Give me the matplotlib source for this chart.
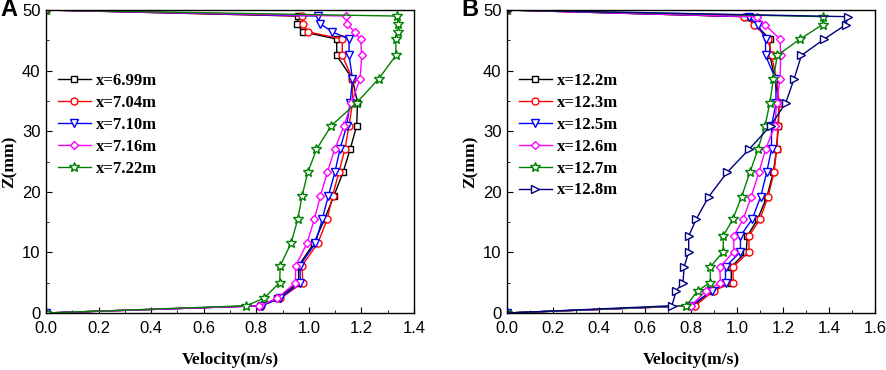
import matplotlib
matplotlib.use('Agg')
import matplotlib.pyplot as plt
from matplotlib.ticker import MultipleLocator

# panel A data
z_a = [0, 1.2, 2.4, 5.0, 7.8, 11.5, 15.5, 19.3, 23.2, 27.0, 30.9, 34.7, 38.6, 42.5, 45.2, 46.4, 47.7, 49.0, 50]
v_699 = [0, 0.815, 0.880, 0.961, 0.961, 1.019, 1.060, 1.095, 1.130, 1.157, 1.182, 1.185, 1.166, 1.106, 1.106, 0.977, 0.955, 0.960, 0]
v_704 = [0, 0.818, 0.891, 0.977, 0.974, 1.034, 1.070, 1.090, 1.114, 1.137, 1.153, 1.166, 1.166, 1.127, 1.127, 0.996, 0.978, 0.974, 0]
v_710 = [0, 0.821, 0.889, 0.968, 0.965, 1.025, 1.051, 1.074, 1.099, 1.118, 1.144, 1.157, 1.166, 1.153, 1.153, 1.089, 1.044, 1.034, 0]
v_716 = [0, 0.812, 0.879, 0.949, 0.950, 0.993, 1.021, 1.044, 1.070, 1.098, 1.134, 1.162, 1.195, 1.201, 1.197, 1.174, 1.144, 1.140, 0]
v_722 = [0, 0.761, 0.828, 0.889, 0.891, 0.932, 0.958, 0.974, 0.996, 1.029, 1.085, 1.182, 1.265, 1.331, 1.331, 1.340, 1.340, 1.335, 0]
labels_a = ['x=6.99m', 'x=7.04m', 'x=7.10m', 'x=7.16m', 'x=7.22m']

# panel B data
z_b = [0, 1.2, 3.7, 5.0, 7.6, 10.1, 12.7, 15.5, 19.2, 23.2, 27.0, 30.9, 34.7, 38.6, 42.5, 45.2, 47.6, 48.9, 50]
v_122 = [0, 0.810, 0.890, 0.975, 0.975, 1.040, 1.045, 1.090, 1.130, 1.158, 1.172, 1.180, 1.183, 1.165, 1.143, 1.143, 1.081, 1.040, 0]
v_123 = [0, 0.819, 0.899, 0.983, 0.983, 1.052, 1.052, 1.100, 1.135, 1.161, 1.172, 1.178, 1.183, 1.172, 1.150, 1.135, 1.075, 1.030, 0]
v_125 = [0, 0.800, 0.892, 0.950, 0.950, 1.015, 1.015, 1.066, 1.103, 1.129, 1.150, 1.150, 1.170, 1.168, 1.124, 1.124, 1.091, 1.050, 0]
v_126 = [0, 0.800, 0.867, 0.928, 0.925, 0.986, 0.986, 1.027, 1.062, 1.095, 1.124, 1.165, 1.172, 1.187, 1.190, 1.187, 1.120, 1.085, 0]
v_127 = [0, 0.780, 0.829, 0.884, 0.884, 0.940, 0.940, 0.982, 1.020, 1.056, 1.091, 1.122, 1.143, 1.158, 1.175, 1.274, 1.372, 1.376, 0]
v_128 = [0, 0.717, 0.736, 0.765, 0.770, 0.790, 0.790, 0.823, 0.877, 0.957, 1.052, 1.146, 1.212, 1.248, 1.280, 1.379, 1.474, 1.481, 0]
labels_b = ['x=12.2m', 'x=12.3m', 'x=12.5m', 'x=12.6m', 'x=12.7m', 'x=12.8m']

colors = ['black', 'red', 'blue', 'magenta', 'green', 'navy']
markers = ['s', 'o', 'v', 'D', '*', '>']
msizes = [4.5, 5, 5.5, 4.5, 7, 5.5]

tick_font = ['Liberation Sans', 'DejaVu Sans']
serif = ['Liberation Serif', 'DejaVu Serif']


def draw(ax, z, series, labels, xmax, tag):
	for i, (v, lab) in enumerate(zip(series, labels)):
		ax.plot(v, z, color=colors[i], marker=markers[i], ms=msizes[i],
				mfc='white', mec=colors[i], mew=1.0, lw=1.0, label=lab)
	ax.set_xlim(0, xmax)
	ax.set_ylim(0, 50)
	ax.xaxis.set_major_locator(MultipleLocator(0.2))
	ax.xaxis.set_minor_locator(MultipleLocator(0.1))
	ax.yaxis.set_major_locator(MultipleLocator(10))
	ax.yaxis.set_minor_locator(MultipleLocator(5))
	ax.tick_params(which='both', direction='in', top=False, right=False)
	ax.tick_params(which='major', length=4, labelsize=12)
	ax.tick_params(axis='x', which='major', pad=6)
	ax.tick_params(axis='y', which='major', pad=4)
	ax.tick_params(which='minor', length=2.5)
	ax.xaxis.set_major_formatter(plt.FuncFormatter(lambda x, p: '%.1f' % x))
	for t in ax.get_xticklabels() + ax.get_yticklabels():
		t.set_family(tick_font)
	for s in ax.spines.values():
		s.set_linewidth(1.0)
	ax.set_xlabel('Velocity(m/s)', fontsize=12.5, fontweight='bold', family=serif, labelpad=11)
	ax.set_ylabel('Z(mm)', fontsize=12.5, fontweight='bold', family=serif, labelpad=3)
	ax.legend(loc='upper left', bbox_to_anchor=(0.0, 0.83), frameon=False,
			  prop={'family': serif, 'weight': 'bold', 'size': 12},
			  handlelength=2.0, handletextpad=0.3, labelspacing=0.35, borderaxespad=0.3)
	ax.text(-0.125, 1.0, tag, transform=ax.transAxes, fontsize=17, fontweight='bold',
			family=['Liberation Sans', 'DejaVu Sans'], va='center', ha='left')


fig = plt.figure(figsize=(8.86, 3.70), dpi=100)
ax1 = fig.add_axes([46 / 886, 1 - 313 / 370, 368 / 886, 303 / 370])
ax2 = fig.add_axes([507 / 886, 1 - 313 / 370, 368 / 886, 303 / 370])

draw(ax1, z_a, [v_699, v_704, v_710, v_716, v_722], labels_a, 1.4, 'A')
draw(ax2, z_b, [v_122, v_123, v_125, v_126, v_127, v_128], labels_b, 1.6, 'B')

fig.savefig('out.png', dpi=100)
plt.close()
